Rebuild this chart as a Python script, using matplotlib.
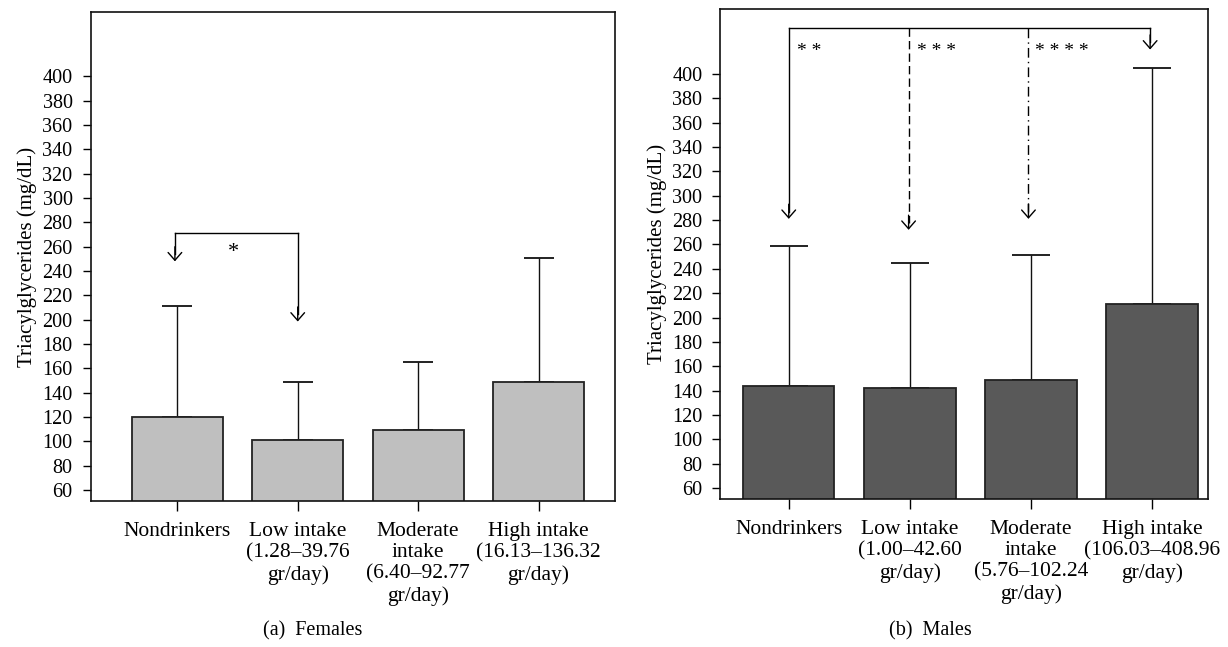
import matplotlib
matplotlib.use("Agg")
import matplotlib.pyplot as plt

plt.rcParams['font.family'] = ['Liberation Serif', 'DejaVu Serif']

f_labels = ["Nondrinkers", "Low intake\n(1.28\u201339.76\ngr/day)",
            "Moderate\nintake\n(6.40\u201392.77\ngr/day)", "High intake\n(16.13\u2013136.32\ngr/day)"]
m_labels = ["Nondrinkers", "Low intake\n(1.00\u201342.60\ngr/day)",
            "Moderate\nintake\n(5.76\u2013102.24\ngr/day)", "High intake\n(106.03\u2013408.96\ngr/day)"]
f_means = [120, 101, 109.5, 149]
f_err_top = [211, 149, 165, 251]
m_means = [143.5, 142.5, 148.5, 211.5]
m_err_top = [259, 245, 251.5, 405]
y_ticks = list(range(60, 401, 20))
ylabel = "Triacylglycerides (mg/dL)"

fig = plt.figure(figsize=(12.28, 6.47), dpi=100)
axL = fig.add_axes([0.0738, 0.2257, 0.4272, 0.7558])
axR = fig.add_axes([0.5867, 0.2287, 0.3974, 0.7569])

FS_TICK = 14.5
FS_CAT = 15.5
FS_LAB = 15
FS_CAP = 14.5

def panel(ax, means, tops, labels, color, capsize, xlim):
    x = list(range(len(means)))
    base = 50
    heights = [m - base for m in means]
    ax.bar(x, heights, bottom=base, width=0.755, color=color, edgecolor='#222222', linewidth=1.3, zorder=2)
    up = [t - m for t, m in zip(tops, means)]
    lo = [0] * len(means)
    ax.errorbar(x, means, yerr=[lo, up], fmt='none', ecolor='#111111', elinewidth=1.0,
                capsize=capsize, capthick=1.3, zorder=1)
    ax.set_ylim(51, 453)
    ax.set_xlim(*xlim)
    ax.set_yticks(y_ticks)
    ax.set_yticklabels([str(v) for v in y_ticks], fontsize=FS_TICK)
    ax.set_xticks(x)
    ax.set_xticklabels(labels, fontsize=FS_CAT, linespacing=1.17, va='top')
    ax.tick_params(axis='y', direction='out', length=6, width=1, pad=7)
    ax.tick_params(axis='x', direction='out', length=7, width=1, pad=8)
    ax.set_ylabel(ylabel, fontsize=FS_LAB, labelpad=4)
    for s in ax.spines.values():
        s.set_linewidth(1.2)
        s.set_color('#111111')

panel(axL, f_means, f_err_top, f_labels, '#bfbfbf', 11, (-0.72, 3.637))
panel(axR, m_means, m_err_top, m_labels, '#595959', 13.7, (-0.564, 3.467))

def head(ax, xp, ytip):
    ax.annotate('', xy=(xp, ytip), xytext=(xp, ytip + 12),
                arrowprops=dict(arrowstyle='->,head_length=0.4,head_width=0.35',
                                lw=1.0, color='black', mutation_scale=14,
                                shrinkA=0, shrinkB=0))

def vline(ax, xp, ytop, ytip, ls):
    ax.plot([xp, xp], [ytop, ytip + 6], color='black', lw=1.0, linestyle=ls)
    head(ax, xp, ytip)

# Females bracket
yb = 271.5
axL.plot([-0.02, 1.0], [yb, yb], color='black', lw=1.0)
vline(axL, -0.02, yb, 248, '-')
vline(axL, 1.0, yb, 198.5, '-')
axL.text(0.47, 255, '*', fontsize=16, ha='center', va='center')

# Males bracket
yb2 = 437.5
axR.plot([0.0, 2.985], [yb2, yb2], color='black', lw=1.0)
vline(axR, 0.0, yb2, 281, '-')
vline(axR, 0.99, yb2, 272, (0, (6, 3)))
vline(axR, 1.98, yb2, 281, (0, (7, 3, 1, 3)))
vline(axR, 2.985, yb2, 420, '-')
axR.text(0.066, 418, '* *', fontsize=14, ha='left', va='center')
axR.text(1.056, 418, '* * *', fontsize=14, ha='left', va='center')
axR.text(2.03, 418, '* * * *', fontsize=14, ha='left', va='center')

fig.text(313 / 1228, 0.01, "(a)  Females", fontsize=FS_CAP, ha='center', va='bottom')
fig.text(930 / 1228, 0.01, "(b)  Males", fontsize=FS_CAP, ha='center', va='bottom')

fig.savefig("out.png", dpi=100)
